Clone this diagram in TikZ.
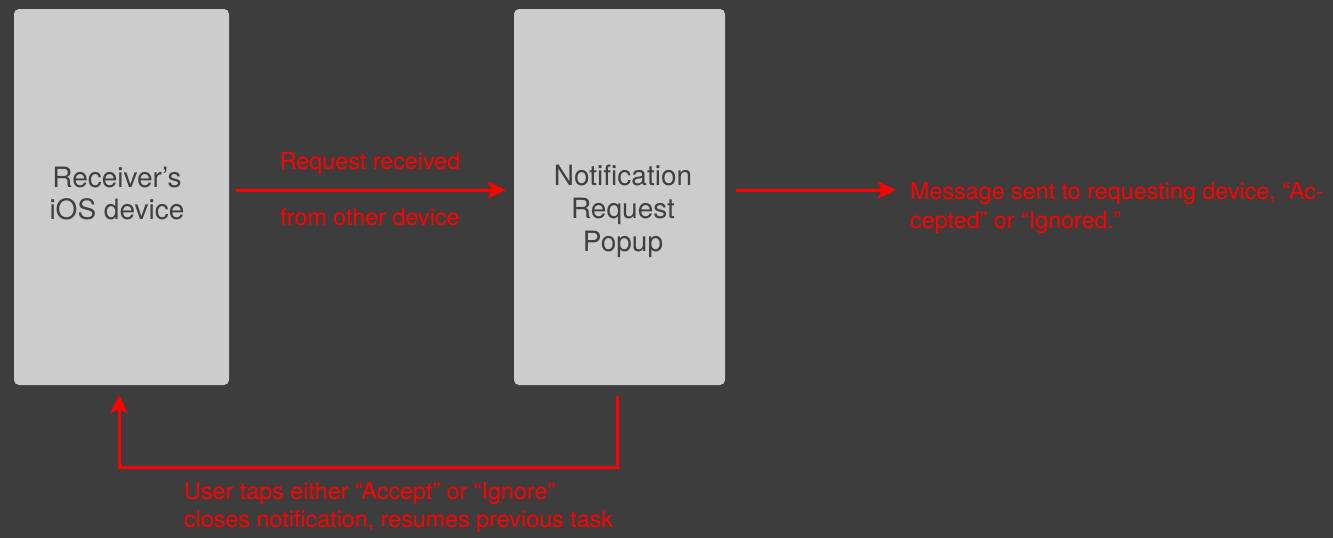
\documentclass[tikz,border=0pt]{standalone}
\usepackage{fontspec}
\setmainfont{TeX Gyre Heros}
\usetikzlibrary{arrows.meta}
\definecolor{bg}{HTML}{3D3D3D}
\definecolor{boxfill}{HTML}{CCCCCC}
\definecolor{boxtext}{HTML}{404040}
\definecolor{redline}{HTML}{FF0000}
\begin{document}
\begin{tikzpicture}[x=1pt,y=-1pt,
  device/.style={fill=boxfill,rounded corners=5pt,inner sep=0pt,minimum width=215pt,minimum height=376pt},
  devtext/.style={text=boxtext,font=\fontsize{28}{31.5}\selectfont,align=center,inner sep=0pt,anchor=base},
  flow/.style={draw=redline,line width=3pt,-{Stealth[length=18pt,width=17pt,inset=4pt]}},
  lbl/.style={text=redline,font=\fontsize{23.3}{28.6}\selectfont,inner sep=0pt,anchor=base}]
\fill[bg] (0,0) rectangle (1333,538);
\useasboundingbox (0,0) rectangle (1333,538);
\node[device] (box1) at (121.5,197) {};
\node[device,minimum width=211pt] (box2) at (619.5,197) {};
\node[devtext] (t1) at (117,219) {Receiver's\\iOS device};
\node[devtext,font=\fontsize{28}{33}\selectfont] (t2) at (623,251.7) {Notification\\Request\\Popup};
\draw[flow,shorten <=7pt,shorten >=8pt] (box1.east |- 0,190) coordinate (a1s) -- (box2.west |- 0,190) coordinate (a1e);
\node[lbl] (l1) at (370,169.3) {Request received};
\node[lbl] (l2) at (370,225) {from other device};
\coordinate (a2s) at (736,190);
\coordinate (a2e) at (896,190);
\draw[flow] (a2s) -- (a2e);
\node[lbl,anchor=base west,align=left] (msg) at (910,228) {Message sent to requesting device, “Ac-\\cepted” or “Ignored.”};
\coordinate (b1) at (617,396);
\coordinate (b2) at (617,467);
\coordinate (b3) at (119,467);
\coordinate (b4) at (119,395);
\draw[flow,line join=miter] (b1) -- (b2) -- (b3) -- (b4);
\node[lbl,anchor=base west,align=left] (back) at (184,527.7) {User taps either “Accept” or “Ignore”\\closes notification, resumes previous task};
\end{tikzpicture}
\end{document}
